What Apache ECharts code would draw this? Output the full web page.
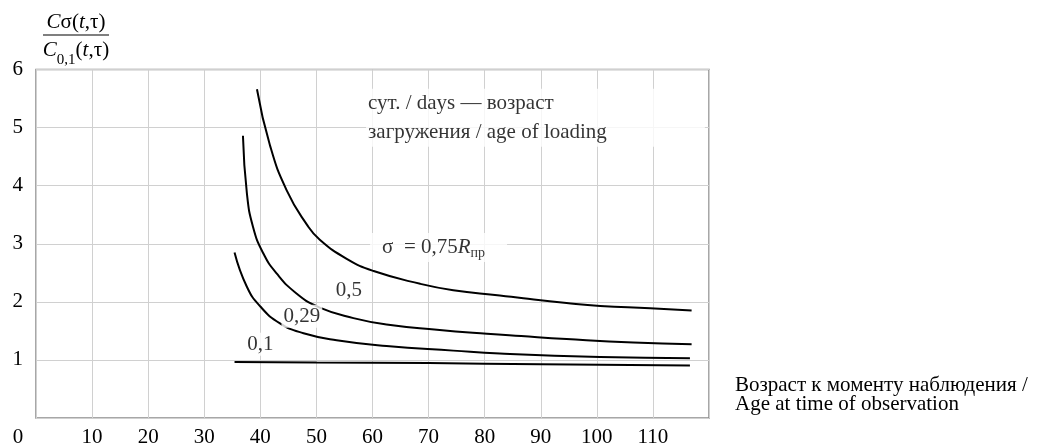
<!DOCTYPE html>
<html><head><meta charset="utf-8">
<script src="https://cdn.jsdelivr.net/npm/echarts/dist/echarts.min.js"></script>
<style>html,body{margin:0;padding:0;background:#fff}#c{width:1040px;height:446px}</style>
</head><body><div id="c"></div>
<script>
// Axis ticks
const xTicks = [0, 10, 20, 30, 40, 50, 60, 70, 80, 90, 100, 110, 120];
const yTicks = [0, 1, 2, 3, 4, 5, 6];

// Curves (age of observation, ratio)
const x075 = [39.4, 41.7, 44.7, 48.3, 50.6, 55.4, 60.2, 68.5, 74.4, 82.7, 86.9, 94.6, 100.6, 109.5, 116.9];
const y075 = [5.66, 4.70, 3.92, 3.33, 3.07, 2.74, 2.53, 2.31, 2.20, 2.11, 2.06, 1.98, 1.93, 1.89, 1.85];

const x050 = [36.9, 37.6, 38.7, 40.5, 42.9, 46.5, 50.6, 56.6, 62.5, 71.5, 80.4, 86.5, 94.6, 106.5, 116.9];
const y050 = [4.86, 3.87, 3.29, 2.84, 2.49, 2.14, 1.90, 1.72, 1.61, 1.52, 1.45, 1.41, 1.36, 1.30, 1.27];

const x029 = [35.4, 37.6, 40.0, 43.5, 47.7, 53.6, 62.5, 74.4, 82.7, 100.6, 116.6];
const y029 = [2.85, 2.26, 1.92, 1.63, 1.46, 1.34, 1.24, 1.16, 1.11, 1.05, 1.03];

const x010 = [35.4, 50, 70, 90, 116.6];
const y010 = [0.965, 0.955, 0.945, 0.925, 0.905];

// Curve labels (data coordinates)
const curveLabels = ['0,5', '0,29', '0,1'];
const curveLabelX = [55.8, 47.4, 40.0];
const curveLabelY = [2.20, 1.75, 1.27];

const FONT = "'Liberation Serif', 'Times New Roman', serif";

function pairs(xs, ys) { return xs.map((x, i) => [x, ys[i]]); }

const chart = echarts.init(document.getElementById('c'));

const lineSeries = [[x075, y075], [x050, y050], [x029, y029], [x010, y010]].map(([xs, ys]) => ({
  type: 'line',
  data: pairs(xs, ys),
  showSymbol: false,
  smooth: 0.5,
  silent: true,
  lineStyle: { color: '#000', width: 2 },
  z: 3
}));

const labelData = curveLabels.map((t, i) => ({
  value: [curveLabelX[i], curveLabelY[i]],
  name: t,
  label: {
    show: true, position: 'inside', formatter: t,
    fontSize: 21, fontFamily: FONT, color: '#000',
    backgroundColor: '#fff', padding: [1, 2]
  }
}));

labelData.push({
  value: [59.57, 2.936],
  name: 'sigma',
  label: {
    show: true, position: [0, 0], align: 'left', verticalAlign: 'middle',
    formatter: '{n|σ  = 0,75}{i|R}{s|пр}',
    backgroundColor: '#fff', padding: [0, 22, 0, 12],
    rich: {
      n: { fontSize: 21, fontFamily: FONT, color: '#000', lineHeight: 29 },
      i: { fontSize: 21, fontFamily: FONT, color: '#000', fontStyle: 'italic', lineHeight: 29 },
      s: { fontSize: 14, fontFamily: FONT, color: '#000', lineHeight: 29, verticalAlign: 'bottom', padding: [0, 0, 2, 0] }
    }
  }
});

labelData.push({
  value: [58.85, 5.17],
  name: 'note',
  label: {
    show: true, position: [0, 0], align: 'left', verticalAlign: 'middle',
    formatter: 'сут. / days — возраст\nзагружения / age of loading',
    fontSize: 21, fontFamily: FONT, color: '#000', lineHeight: 29,
    backgroundColor: '#fff', padding: [0, 98, 0, 2]
  }
});

chart.setOption({
  animation: false,
  backgroundColor: '#fff',
  grid: {
    left: 36, right: 331, top: 69.5, bottom: 28,
    outerBoundsMode: 'none', containLabel: false,
    show: true, borderColor: '#8a8a8a', borderWidth: 1.5, backgroundColor: 'transparent'
  },
  xAxis: {
    type: 'value', min: 0, max: 120, interval: 10,
    axisLine: { show: false }, axisTick: { show: false },
    splitLine: { show: true, lineStyle: { color: '#d0d0d0', width: 1 } },
    axisLabel: {
      margin: 9, fontSize: 21, fontFamily: FONT, color: '#000',
      formatter: v => (v === 0 || v === 120) ? '' : String(v)
    }
  },
  yAxis: {
    type: 'value', min: 0, max: 6, interval: 1,
    axisLine: { show: false }, axisTick: { show: false },
    splitLine: { show: true, lineStyle: { color: '#d0d0d0', width: 1 } },
    axisLabel: {
      margin: 13, fontSize: 21, fontFamily: FONT, color: '#000',
      formatter: v => v === 0 ? '' : String(v)
    }
  },
  series: lineSeries.concat([{
    type: 'scatter',
    data: labelData,
    symbolSize: 0,
    silent: true,
    clip: false,
    z: 5
  }]),
  graphic: [
    {
      type: 'text', x: 76, y: 22, z: 10,
      style: {
        text: '{i|C}{n|σ(}{i|t}{n|,τ)}',
        align: 'center', verticalAlign: 'middle',
        rich: {
          i: { fontSize: 21, fontFamily: FONT, fill: '#000', fontStyle: 'italic' },
          n: { fontSize: 21, fontFamily: FONT, fill: '#000' }
        }
      }
    },
    {
      type: 'line', z: 10,
      shape: { x1: 43, y1: 35, x2: 109, y2: 35 },
      style: { stroke: '#000', lineWidth: 1.2 }
    },
    {
      type: 'text', x: 76, y: 50, z: 10,
      style: {
        text: '{i|C}{s|0,1}{n|(}{i|t}{n|,τ)}',
        align: 'center', verticalAlign: 'middle',
        rich: {
          i: { fontSize: 21, fontFamily: FONT, fill: '#000', fontStyle: 'italic', lineHeight: 24 },
          n: { fontSize: 21, fontFamily: FONT, fill: '#000', lineHeight: 24 },
          s: { fontSize: 15, fontFamily: FONT, fill: '#000', lineHeight: 24, verticalAlign: 'bottom', padding: [0, 0, -6, 0] }
        }
      }
    },
    {
      type: 'text', x: 18, y: 437, z: 10,
      style: { text: '0', fontSize: 21, fontFamily: FONT, fill: '#000', align: 'center', verticalAlign: 'middle' }
    },
    {
      type: 'text', x: 735, y: 394.5, z: 10,
      style: {
        text: 'Возраст к моменту наблюдения /\nAge at time of observation',
        fontSize: 21, fontFamily: FONT, fill: '#000', lineHeight: 19,
        align: 'left', verticalAlign: 'middle'
      }
    }
  ]
});
</script>
</body></html>
